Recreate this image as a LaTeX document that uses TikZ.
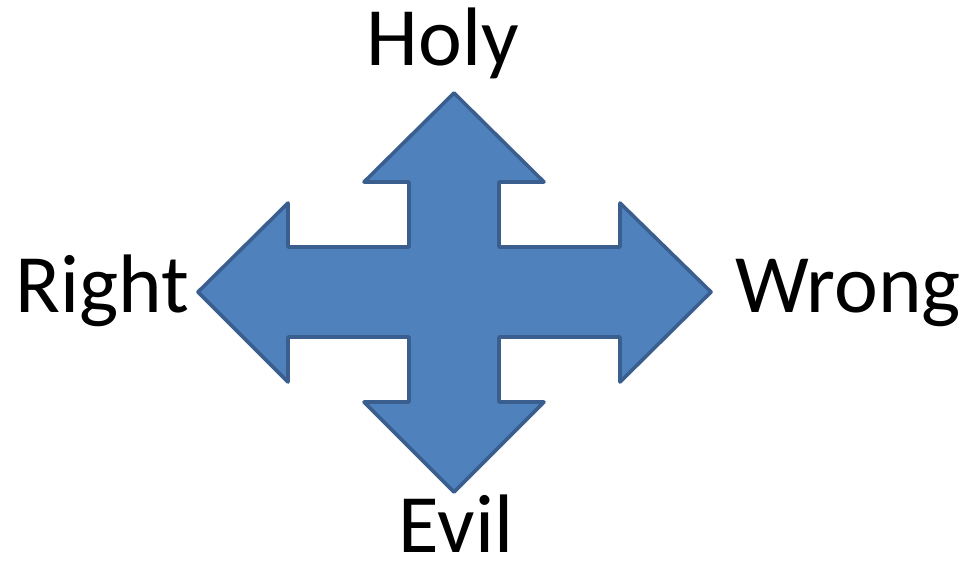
\documentclass[tikz,border=0pt]{standalone}
\usepackage{fontspec}
\setmainfont{Carlito}
\definecolor{arrowfill}{HTML}{4F81BD}
\definecolor{arrowline}{HTML}{3A5F8E}
\begin{document}
\begin{tikzpicture}[x=1pt,y=-1pt,
  lbl/.style={anchor=base,inner sep=0pt,font=\fontsize{83}{90}\selectfont}]
\useasboundingbox (0,0) rectangle (965,560);
% center (454,292)
\draw[fill=arrowfill,draw=arrowline,line width=3.6pt,line join=round]
  (454,93) -- (544,182) -- (499,182) -- (499,247)
  -- (620,247) -- (620,203) -- (711,292) -- (620,382) -- (620,337)
  -- (499,337) -- (499,402) -- (544,402) -- (454,492) -- (364,402) -- (409,402)
  -- (409,337) -- (288,337) -- (288,382) -- (198,292) -- (288,203) -- (288,247)
  -- (409,247) -- (409,182) -- (364,182) -- cycle;
\node[lbl] (holy) at (443,65) {Holy};
\node[lbl] (right) at (102,312) {Right};
\node[lbl] (wrong) at (848,312) {Wrong};
\node[lbl] (evil) at (456,552) {Evil};
\end{tikzpicture}
\end{document}
